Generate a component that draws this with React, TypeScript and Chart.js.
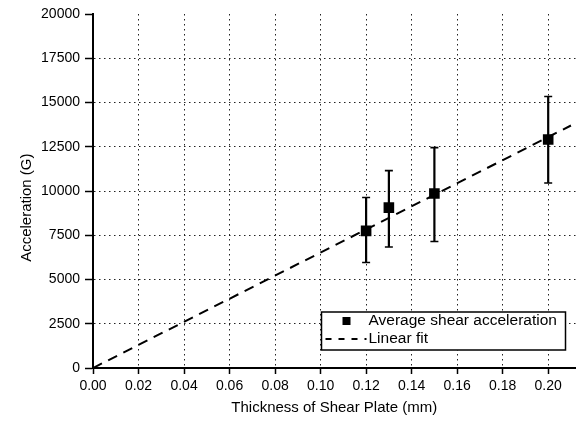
import React, { useEffect, useRef } from "react";
import { Chart, registerables } from "chart.js";

Chart.register(...registerables);

// ---- data ----
const thickness = [0.12, 0.13, 0.15, 0.2];
const meanAccel = [7750, 9060, 9860, 12910];
const errHigh = [9630, 11150, 12450, 15340];
const errLow = [5960, 6840, 7150, 10450];
const fitX = [0, 0.21];
const fitY = [0, 13700];
const xTickValues = [0, 0.02, 0.04, 0.06, 0.08, 0.1, 0.12, 0.14, 0.16, 0.18, 0.2];
const yTickValues = [0, 2500, 5000, 7500, 10000, 12500, 15000, 17500, 20000];
const seriesLabels = ["Average shear acceleration", "Linear fit"];
const xTitle = "Thickness of Shear Plate (mm)";
const yTitle = "Acceleration (G)";

const FONT = "'Liberation Sans', Arial, Helvetica, sans-serif";

const errorBarPlugin = {
  id: "errorBars",
  afterDatasetsDraw(chart: any) {
    const { ctx, scales } = chart;
    const xs = scales.x;
    const ys = scales.y;
    ctx.save();
    ctx.strokeStyle = "#000";
    ctx.setLineDash([]);
    for (let i = 0; i < thickness.length; i++) {
      const px = xs.getPixelForValue(thickness[i]);
      const pHi = ys.getPixelForValue(errHigh[i]);
      const pLo = ys.getPixelForValue(errLow[i]);
      ctx.lineWidth = 2.2;
      ctx.beginPath();
      ctx.moveTo(px, pHi);
      ctx.lineTo(px, pLo);
      ctx.stroke();
      ctx.lineWidth = 1.6;
      ctx.beginPath();
      ctx.moveTo(px - 4, pHi);
      ctx.lineTo(px + 4, pHi);
      ctx.moveTo(px - 4, pLo);
      ctx.lineTo(px + 4, pLo);
      ctx.stroke();
    }
    ctx.restore();
  },
};

const legendBoxPlugin = {
  id: "legendBox",
  afterDraw(chart: any) {
    const { ctx, chartArea } = chart;
    const w = 244;
    const h = 38;
    const left = chartArea.right - 10 - w;
    const top = chartArea.bottom - 18 - h;
    ctx.save();
    ctx.fillStyle = "#fff";
    ctx.fillRect(left, top, w, h);
    ctx.strokeStyle = "#000";
    ctx.lineWidth = 1.5;
    ctx.setLineDash([]);
    ctx.strokeRect(left, top, w, h);
    // marker
    ctx.fillStyle = "#000";
    ctx.fillRect(left + 25 - 4, top + 9 - 4, 8, 8);
    // dashed sample
    ctx.lineWidth = 2;
    ctx.setLineDash([6, 7]);
    ctx.beginPath();
    ctx.moveTo(left + 4, top + 27);
    ctx.lineTo(left + 45, top + 27);
    ctx.stroke();
    ctx.setLineDash([]);
    ctx.font = `15.5px ${FONT}`;
    ctx.textBaseline = "middle";
    ctx.textAlign = "left";
    ctx.fillText(chart.data.datasets[0].label, left + 47, top + 9);
    ctx.fillText(chart.data.datasets[1].label, left + 47, top + 27);
    ctx.restore();
  },
};

export default function App() {
  const canvasRef = useRef<HTMLCanvasElement | null>(null);

  useEffect(() => {
    if (!canvasRef.current) return;
    const gridColor = (hide: number[]) => (c: any) =>
      c.tick && hide.some((v) => Math.abs(c.tick.value - v) < 1e-9) ? "rgba(0,0,0,0)" : "#222";

    const chart = new Chart(canvasRef.current, {
      type: "scatter",
      data: {
        datasets: [
          {
            label: seriesLabels[0],
            data: thickness.map((x, i) => ({ x, y: meanAccel[i] })),
            pointStyle: "rect",
            pointRadius: 7.5,
            pointHoverRadius: 7.5,
            backgroundColor: "#000",
            borderColor: "#000",
            borderWidth: 0,
            showLine: false,
          },
          {
            label: seriesLabels[1],
            data: fitX.map((x, i) => ({ x, y: fitY[i] })),
            showLine: true,
            borderColor: "#000",
            borderWidth: 2,
            borderDash: [10, 7],
            pointRadius: 0,
            pointHoverRadius: 0,
            fill: false,
          },
        ],
      },
      options: {
        animation: false,
        responsive: false,
        devicePixelRatio: 1,
        layout: { padding: { top: 14, right: 6, left: 0, bottom: 0 } },
        plugins: {
          legend: { display: false },
          tooltip: { enabled: false },
        },
        scales: {
          x: {
            type: "linear",
            min: 0,
            max: 0.212,
            afterBuildTicks: (s: any) => {
              s.ticks = xTickValues.map((value) => ({ value }));
            },
            afterFit: (s: any) => {
              s.height = 53;
            },
            ticks: {
              callback: (v: any) => Number(v).toFixed(2),
              font: { size: 14, family: FONT },
              color: "#000",
              padding: 4,
              maxRotation: 0,
              autoSkip: false,
            },
            grid: {
              color: gridColor([0]),
              lineWidth: 1,
              drawTicks: true,
              tickLength: 6,
              tickColor: "#000",
              tickWidth: 1.5,
              tickBorderDash: [],
            },
            border: { display: true, color: "#000", width: 2, dash: [1.5, 3.5] },
            title: {
              display: true,
              text: xTitle,
              font: { size: 15, family: FONT },
              color: "#000",
              padding: { top: 0, bottom: 4 },
            },
          },
          y: {
            type: "linear",
            min: 0,
            max: 20000,
            afterBuildTicks: (s: any) => {
              s.ticks = yTickValues.map((value) => ({ value }));
            },
            afterFit: (s: any) => {
              s.width = 93;
            },
            ticks: {
              callback: (v: any) => String(v),
              font: { size: 14, family: FONT },
              color: "#000",
              padding: 5,
              autoSkip: false,
            },
            grid: {
              color: gridColor([0, 20000]),
              lineWidth: 1,
              drawTicks: true,
              tickLength: 8,
              tickColor: "#000",
              tickWidth: 1.5,
              tickBorderDash: [],
            },
            border: { display: true, color: "#000", width: 2, dash: [1.5, 3.5] },
            title: {
              display: true,
              text: yTitle + "\u00a0\u00a0\u00a0\u00a0\u00a0\u00a0\u00a0\u00a0",
              font: { size: 15, family: FONT },
              color: "#000",
              padding: { top: 18, bottom: 0 },
            },
          },
        },
      },
      plugins: [errorBarPlugin, legendBoxPlugin],
    });
    return () => chart.destroy();
  }, []);

  return (
    <div style={{ position: "absolute", left: 0, top: 0, width: 583, height: 421, background: "#fff" }}>
      <canvas ref={canvasRef} width={583} height={421} style={{ display: "block" }} />
    </div>
  );
}
